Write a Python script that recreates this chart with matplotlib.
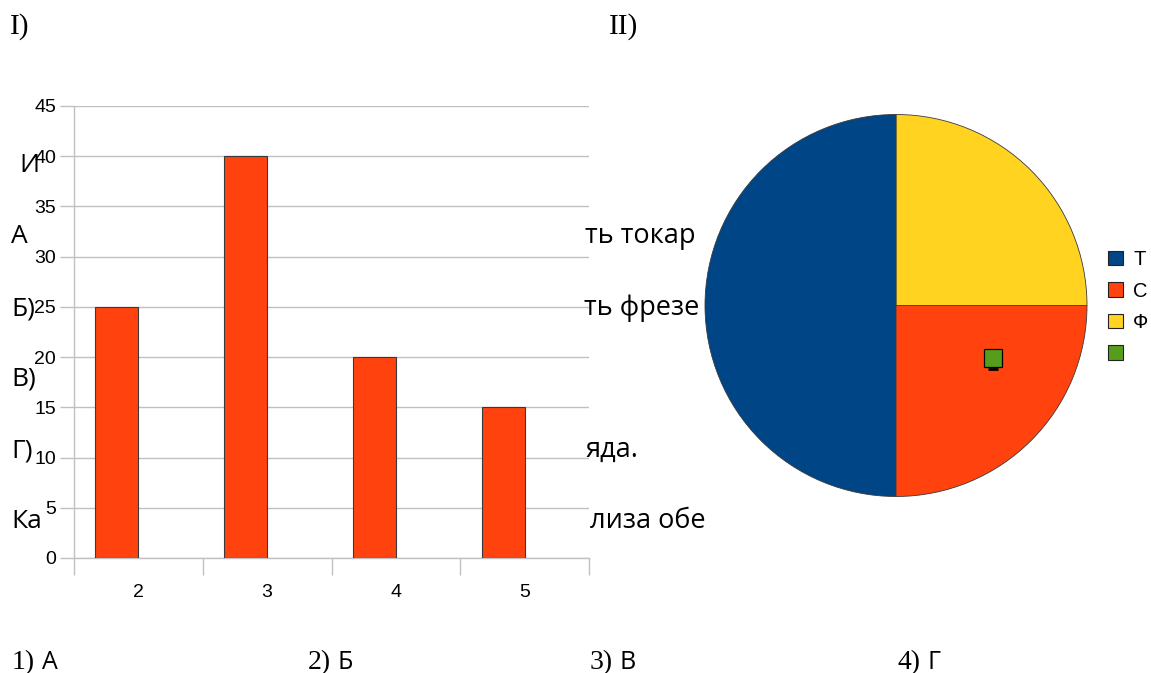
import matplotlib
matplotlib.use("Agg")
import matplotlib.pyplot as plt
from matplotlib.patches import Patch

# ---- data ----
bar_categories = ["2", "3", "4", "5"]
bar_values = [25, 40, 20, 15]
y_ticks = [0, 5, 10, 15, 20, 25, 30, 35, 40, 45]

pie_labels = ["Т", "С", "Ф", ""]
pie_values = [50, 25, 25, 0]
pie_colors = ["#004586", "#ff420e", "#ffd320", "#579d1c"]

bar_color = "#ff420e"

W, H = 1151, 673
fig = plt.figure(figsize=(W / 100, H / 100), dpi=100)

def fx(px):
    return px / W

def fy(py):
    return 1 - py / H

# ---- bar chart ----
ax = fig.add_axes([fx(74), fy(558), fx(589) - fx(74), fy(106) - fy(558)])
xpos = list(range(len(bar_values)))
ax.bar(xpos, bar_values, width=-1/3, align="edge", color=bar_color,
       edgecolor="#3a3a3a", linewidth=0.8, zorder=3)
ax.set_xlim(-0.5, len(bar_values) - 0.5)
ax.set_ylim(0, 45)
ax.set_yticks(y_ticks)
ax.set_yticklabels([str(v) for v in y_ticks], fontsize=14, family="Liberation Sans")
ax.set_xticks(xpos)
ax.set_xticklabels(bar_categories, fontsize=14, family="Liberation Sans")
ax.set_xticks([i - 0.5 for i in range(len(bar_values) + 1)], minor=True)
ax.tick_params(axis="x", which="major", length=0, pad=19)
ax.tick_params(axis="x", which="minor", length=12, color="#c0c0c0", width=1)
ax.tick_params(axis="y", length=10, color="#c0c0c0", width=1, pad=3)
ax.grid(axis="y", color="#c0c0c0", linewidth=1, zorder=0)
for s in ["top", "right"]:
    ax.spines[s].set_visible(False)
for s in ["left", "bottom"]:
    ax.spines[s].set_color("#c0c0c0")
    ax.spines[s].set_linewidth(1)

# ---- pie chart ----
r = 191
pax = fig.add_axes([fx(896 - r), fy(305.5 + r), fx(2 * r), (2 * r) / H])
wedges, _ = pax.pie(pie_values, colors=pie_colors, startangle=90, counterclock=True,
                    radius=1, wedgeprops=dict(edgecolor="#3a3a3a", linewidth=0.6))
pax.set_xlim(-1, 1)
pax.set_ylim(-1, 1)
pax.set_aspect("equal")
pax.axis("off")
# marker of the zero-value slice
pax.plot([0.51], [-0.33], marker="_", markersize=7, color="black", mew=2, zorder=4)
pax.scatter([0.51], [-0.275], marker="s", s=150, color=pie_colors[3],
            edgecolor="black", linewidth=0.9, zorder=5)

handles = [Patch(facecolor=c, edgecolor="#222222", linewidth=0.8) for c in pie_colors]
fig.legend(handles, pie_labels, loc="upper left",
           bbox_to_anchor=(fx(1100), fy(242)), frameon=False,
           prop=dict(family="Liberation Sans", size=14.5),
           handlelength=0.75, handleheight=0.75, handletextpad=0.5,
           labelspacing=0.62, borderaxespad=0)

# ---- text overlays ----
serif = "Liberation Serif"
sans = "Open Sans"
fig.text(fx(10), fy(34), "I)", family=serif, fontsize=21, va="baseline")
fig.text(fx(609), fy(34), "II)", family=serif, fontsize=21, va="baseline")

left_items = [("И", 19, 172), ("А", 11, 243), ("Б)", 11, 315),
              ("В)", 11, 386), ("Г)", 11, 457), ("Ка", 11, 528)]
for t, x, y in left_items:
    fig.text(fx(x), fy(y), t, family=sans, fontsize=19, va="baseline")

right_items = [("ть токар", 585, 243), ("ть фрезе", 584, 315),
               ("яда.", 585, 457), ("лиза обе", 590, 528)]
for t, x, y in right_items:
    fig.text(fx(x), fy(y), t, family=sans, fontsize=19.5, va="baseline")

answers = [("1)", "А", 12), ("2)", "Б", 308), ("3)", "В", 590), ("4)", "Г", 898)]
for n, l, x in answers:
    fig.text(fx(x), fy(669), n, family=serif, fontsize=20, va="baseline")
    fig.text(fx(x + 30), fy(669), l, family=sans, fontsize=18, va="baseline")

fig.savefig("out.png", dpi=100)
